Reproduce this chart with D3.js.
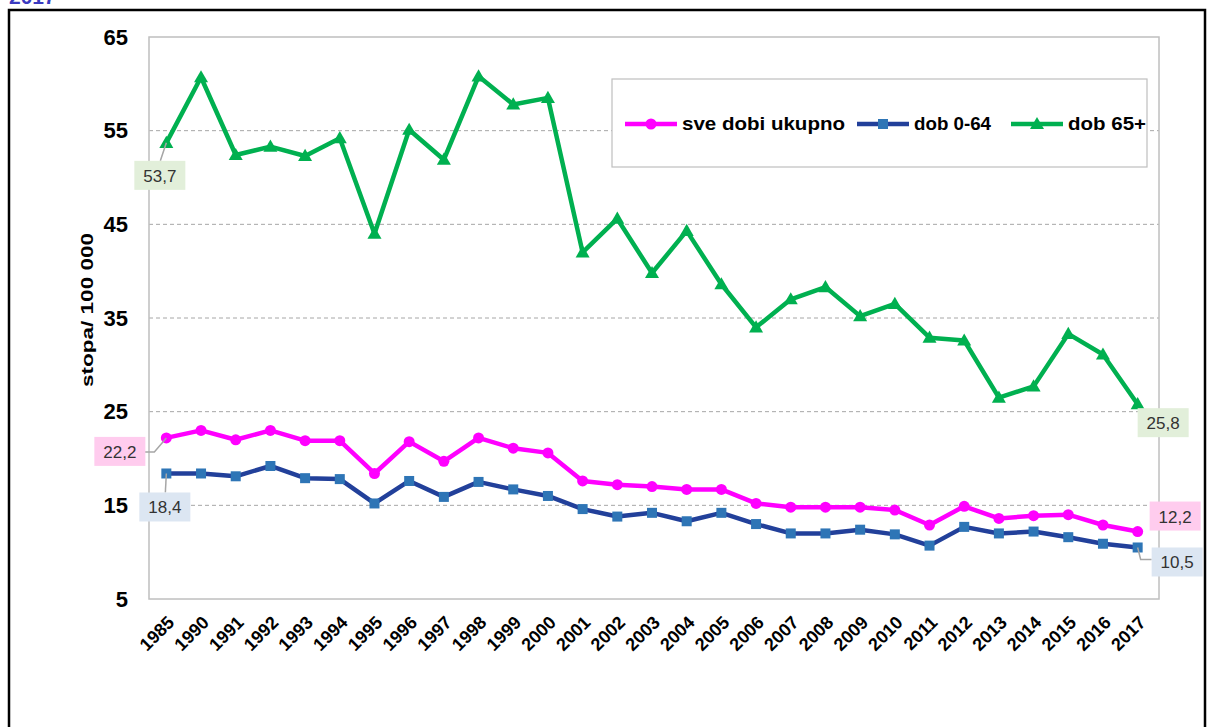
<!DOCTYPE html>
<html>
<head>
<meta charset="utf-8">
<script src="https://cdn.jsdelivr.net/npm/d3@7"></script>
<style>
  body { margin: 0; background: #fff; }
  svg { display: block; font-family: Arial, "Liberation Sans", sans-serif; }
</style>
</head>
<body>
<div id="chart"></div>
<script>
// godine
const years = ['1985', '1990', '1991', '1992', '1993', '1994', '1995', '1996', '1997', '1998',
  '1999', '2000', '2001', '2002', '2003', '2004', '2005', '2006', '2007', '2008', '2009',
  '2010', '2011', '2012', '2013', '2014', '2015', '2016', '2017']
// sve dobi ukupno
const sveDobi = [22.2, 23.0, 22.0, 23.0, 21.9, 21.9, 18.4, 21.8, 19.7, 22.2,
  21.1, 20.6, 17.6, 17.2, 17.0, 16.7, 16.7, 15.2, 14.8, 14.8, 14.8,
  14.5, 12.9, 14.9, 13.6, 13.9, 14.0, 12.9, 12.2]
// dob 0-64
const dob064 = [18.4, 18.4, 18.1, 19.2, 17.9, 17.8, 15.2, 17.6, 15.9, 17.5,
  16.7, 16.0, 14.6, 13.8, 14.2, 13.3, 14.2, 13.0, 12.0, 12.0, 12.4,
  11.9, 10.7, 12.7, 12.0, 12.2, 11.6, 10.9, 10.5]
// dob 65+
const dob65 = [53.7, 60.7, 52.4, 53.3, 52.3, 54.2, 44.0, 55.1, 51.9, 60.8,
  57.8, 58.5, 42.0, 45.6, 39.8, 44.3, 38.6, 34.0, 37.0, 38.3, 35.2,
  36.5, 32.9, 32.6, 26.5, 27.7, 33.3, 31.1, 25.8]
const yTicks = [5, 15, 25, 35, 45, 55, 65]

const width = 1215
const height = 727
const margin = { top: 37, right: 60, bottom: 128, left: 149 }

const series = [
  { name: 'sve dobi ukupno', values: sveDobi, line: '#ff00ff', fill: '#ff00ff', mark: 'circle', labelBg: '#ffccee', legW: 163 },
  { name: 'dob 0-64', values: dob064, line: '#22409a', fill: '#2e75b6', mark: 'square', labelBg: '#dce6f2', legW: 77 },
  { name: 'dob 65+', values: dob65, line: '#00b050', fill: '#00b050', mark: 'triangle', labelBg: '#e2efda', legW: 78 }
]

const svg = d3.select('#chart')
  .append('svg')
  .attr('width', width)
  .attr('height', height)

// okvir slike i odrezani naslov
svg.append('text')
  .attr('x', 9)
  .attr('y', 4)
  .attr('font-size', 21)
  .attr('font-weight', 'bold')
  .attr('fill', '#3a3ac0')
  .text('2017')
svg.append('rect')
  .attr('x', 9)
  .attr('y', 10)
  .attr('width', 1196)
  .attr('height', 740)
  .attr('fill', 'none')
  .attr('stroke', '#000')
  .attr('stroke-width', 2.5)

const x = d3.scalePoint()
  .domain(years)
  .range([margin.left, width - margin.right])
  .padding(0.5)
const y = d3.scaleLinear()
  .domain([5, 65])
  .range([height - margin.bottom, margin.top])

const plotL = margin.left
const plotR = width - margin.right + 4
const plotT = y(65)
const plotB = y(5)

// mreza
svg.append('g')
  .selectAll('line')
  .data(yTicks.filter(t => t > 5 && t < 65))
  .join('line')
  .attr('x1', plotL)
  .attr('x2', plotR)
  .attr('y1', d => y(d))
  .attr('y2', d => y(d))
  .attr('stroke', '#a6a6a6')
  .attr('stroke-dasharray', '4,3')
  .attr('stroke-width', 1)

svg.append('rect')
  .attr('x', plotL)
  .attr('y', plotT)
  .attr('width', plotR - plotL)
  .attr('height', plotB - plotT)
  .attr('fill', 'none')
  .attr('stroke', '#bfbfbf')
  .attr('stroke-width', 1.5)

// os y
const yAxis = svg.append('g')
  .attr('transform', `translate(${plotL - 18},0)`)
  .call(d3.axisLeft(y).tickValues(yTicks).tickSize(0))
yAxis.select('.domain').remove()
yAxis.selectAll('text')
  .attr('font-size', 22)
  .attr('font-weight', 'bold')
  .attr('fill', '#000')
  .attr('font-family', 'Arial, "Liberation Sans", sans-serif')

svg.append('text')
  .attr('transform', `translate(93, 310) rotate(-90)`)
  .attr('text-anchor', 'middle')
  .attr('font-size', 17)
  .attr('font-weight', 'bold')
  .attr('textLength', 154)
  .attr('lengthAdjust', 'spacingAndGlyphs')
  .text('stopa/ 100 000')

// os x
const xAxis = svg.append('g')
  .attr('transform', `translate(0,${plotB + 6})`)
  .call(d3.axisBottom(x).tickSize(0))
xAxis.select('.domain').remove()
xAxis.selectAll('text')
  .attr('font-size', 18)
  .attr('font-weight', 'bold')
  .attr('fill', '#000')
  .attr('font-family', 'Arial, "Liberation Sans", sans-serif')
  .attr('text-anchor', 'end')
  .attr('dy', '0.35em')
  .attr('transform', 'translate(2,12) rotate(-45)')

// linije
const line = d3.line()
  .x((d, i) => x(years[i]))
  .y(d => y(d))

const triangle = d3.symbol().type(d3.symbolTriangle).size(85)

series.forEach(s => {
  const g = svg.append('g')
  g.append('path')
    .datum(s.values)
    .attr('d', line)
    .attr('fill', 'none')
    .attr('stroke', s.line)
    .attr('stroke-width', 4.5)
    .attr('stroke-linejoin', 'round')
  const pts = g.selectAll('.pt')
    .data(s.values)
    .join('g')
    .attr('transform', (d, i) => `translate(${x(years[i])},${y(d)})`)
  if (s.mark === 'circle') {
    pts.append('circle').attr('r', 5.5).attr('fill', s.fill)
  } else if (s.mark === 'square') {
    pts.append('rect').attr('x', -5).attr('y', -5).attr('width', 10).attr('height', 10).attr('fill', s.fill)
  } else {
    pts.append('path').attr('d', triangle).attr('transform', 'translate(0,1)').attr('fill', s.fill)
  }
})

// oznake podataka (prva i zadnja godina)
const fmt = v => d3.format('.1f')(v).replace('.', ',')
const first = years[0]
const last = years[years.length - 1]
const labels = [
  { s: 2, i: 0, bx: x(first) - 32, by: y(dob65[0]) + 18, leader: [[0, 0], [-6, 18]] },
  { s: 0, i: 0, bx: x(first) - 72, by: y(sveDobi[0]) - 1, leader: [[0, 0], [-12, 14], [-22, 14]] },
  { s: 1, i: 0, bx: x(first) - 27, by: y(dob064[0]) + 19, leader: [[0, 0], [-1, 19]] },
  { s: 2, i: years.length - 1, bx: x(last) + 0, by: y(dob65[dob65.length - 1]) + 4, leader: null },
  { s: 0, i: years.length - 1, bx: x(last) + 12, by: y(sveDobi[sveDobi.length - 1]) - 30, leader: null },
  { s: 1, i: years.length - 1, bx: x(last) + 14, by: y(dob064[dob064.length - 1]) + 0, leader: [[0, 0], [3, 12], [14, 12]] }
]
const lg = svg.append('g')
labels.forEach(l => {
  const s = series[l.s]
  const v = s.values[l.i]
  const px = x(years[l.i])
  const py = y(v)
  if (l.leader) {
    lg.append('polyline')
      .attr('points', l.leader.map(p => `${px + p[0]},${py + p[1]}`).join(' '))
      .attr('fill', 'none')
      .attr('stroke', '#a6a6a6')
      .attr('stroke-width', 1.5)
  }
  lg.append('rect')
    .attr('x', l.bx)
    .attr('y', l.by)
    .attr('width', 51)
    .attr('height', 29)
    .attr('fill', s.labelBg)
  lg.append('text')
    .attr('x', l.bx + 25.5)
    .attr('y', l.by + 21)
    .attr('text-anchor', 'middle')
    .attr('font-size', 17)
    .attr('fill', '#333')
    .text(fmt(v))
})

// legenda
const leg = svg.append('g')
leg.append('rect')
  .attr('x', 612)
  .attr('y', 79)
  .attr('width', 535)
  .attr('height', 88)
  .attr('fill', '#fff')
  .attr('stroke', '#bfbfbf')
  .attr('stroke-width', 1.2)
const legX = [625, 857, 1011]
series.forEach((s, i) => {
  const lx = legX[i]
  const ly = 124
  leg.append('line')
    .attr('x1', lx).attr('x2', lx + 52)
    .attr('y1', ly).attr('y2', ly)
    .attr('stroke', s.line)
    .attr('stroke-width', 4.5)
  if (s.mark === 'circle') {
    leg.append('circle').attr('cx', lx + 26).attr('cy', ly).attr('r', 5.5).attr('fill', s.fill)
  } else if (s.mark === 'square') {
    leg.append('rect').attr('x', lx + 21).attr('y', ly - 5).attr('width', 10).attr('height', 10).attr('fill', s.fill)
  } else {
    leg.append('path').attr('d', triangle).attr('transform', `translate(${lx + 26},${ly + 1})`).attr('fill', s.fill)
  }
  leg.append('text')
    .attr('x', lx + 57)
    .attr('y', ly + 6)
    .attr('font-size', 18)
    .attr('font-weight', 'bold')
    .attr('textLength', s.legW)
    .attr('lengthAdjust', 'spacingAndGlyphs')
    .text(s.name)
})
</script>
</body>
</html>
